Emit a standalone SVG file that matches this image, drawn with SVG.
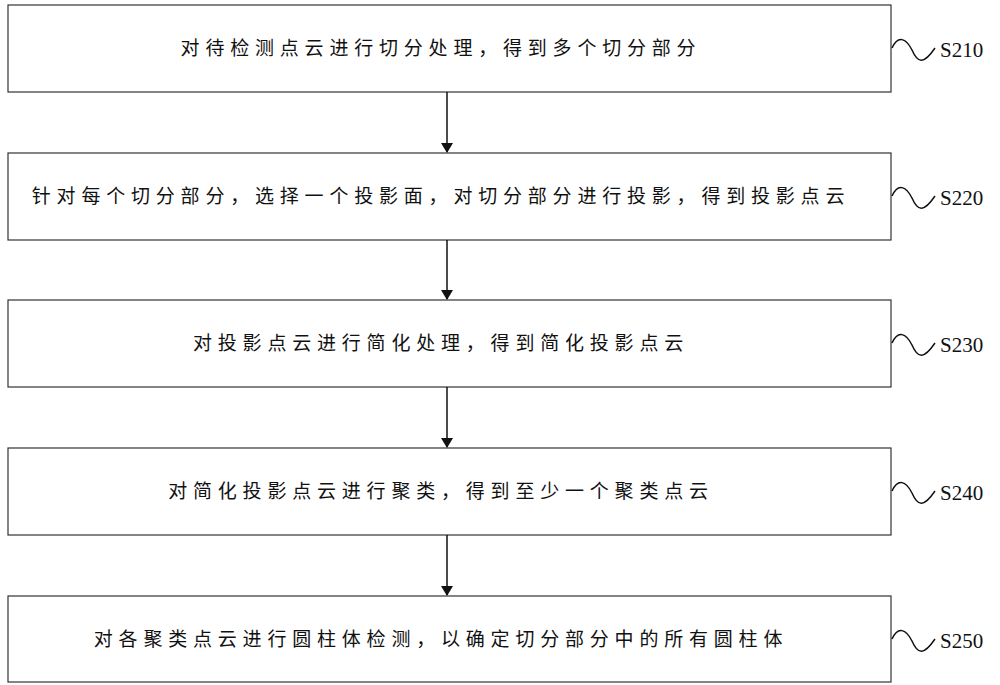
<svg xmlns="http://www.w3.org/2000/svg" width="1000" height="685" viewBox="0 0 1000 685">
<style>
.box{fill:#fff;stroke:#333;stroke-width:1.2}
.t{font-family:"Noto Sans CJK SC",sans-serif;font-size:19px;letter-spacing:5.8px;fill:#111;text-anchor:middle}
.lbl{font-family:"Liberation Serif",serif;font-size:21px;fill:#111}
.sq{fill:none;stroke:#111;stroke-width:1.5}
.ar{stroke:#111;stroke-width:1.5;marker-end:url(#ah)}
</style>
<defs><marker id="ah" markerWidth="10" markerHeight="12" refX="9" refY="6" orient="auto" markerUnits="userSpaceOnUse"><path d="M0,0 L10,6 L0,12 Z" fill="#111"/></marker></defs>
<rect width="1000" height="685" fill="#fff"/>
<g id="n1"><rect class="box" x="8" y="5" width="883" height="87"/><text class="t" x="441" y="55">对待检测点云进行切分处理，得到多个切分部分</text><path class="sq" d="M892,48 C898,35 906,38 912,50 C918,64 924,64 935,48"/><text class="lbl" x="940" y="57">S210</text></g>
<g id="n2"><rect class="box" x="8" y="153" width="883" height="87"/><text class="t" x="441" y="203">针对每个切分部分，选择一个投影面，对切分部分进行投影，得到投影点云</text><path class="sq" d="M892,196 C898,183 906,186 912,198 C918,212 924,212 935,196"/><text class="lbl" x="940" y="205">S220</text></g>
<g id="n3"><rect class="box" x="8" y="300" width="883" height="87"/><text class="t" x="441" y="350">对投影点云进行简化处理，得到简化投影点云</text><path class="sq" d="M892,343 C898,330 906,333 912,345 C918,359 924,359 935,343"/><text class="lbl" x="940" y="352">S230</text></g>
<g id="n4"><rect class="box" x="8" y="448" width="883" height="87"/><text class="t" x="441" y="498">对简化投影点云进行聚类，得到至少一个聚类点云</text><path class="sq" d="M892,491 C898,478 906,481 912,493 C918,507 924,507 935,491"/><text class="lbl" x="940" y="500">S240</text></g>
<g id="n5"><rect class="box" x="8" y="596" width="883" height="86"/><text class="t" x="441" y="646">对各聚类点云进行圆柱体检测，以确定切分部分中的所有圆柱体</text><path class="sq" d="M892,639 C898,626 906,629 912,641 C918,655 924,655 935,639"/><text class="lbl" x="940" y="648">S250</text></g>
<g id="connectors">
<line class="ar" x1="447" y1="92" x2="447" y2="152"/>
<line class="ar" x1="447" y1="240" x2="447" y2="299"/>
<line class="ar" x1="447" y1="387" x2="447" y2="447"/>
<line class="ar" x1="447" y1="535" x2="447" y2="595"/>
</g>
</svg>
